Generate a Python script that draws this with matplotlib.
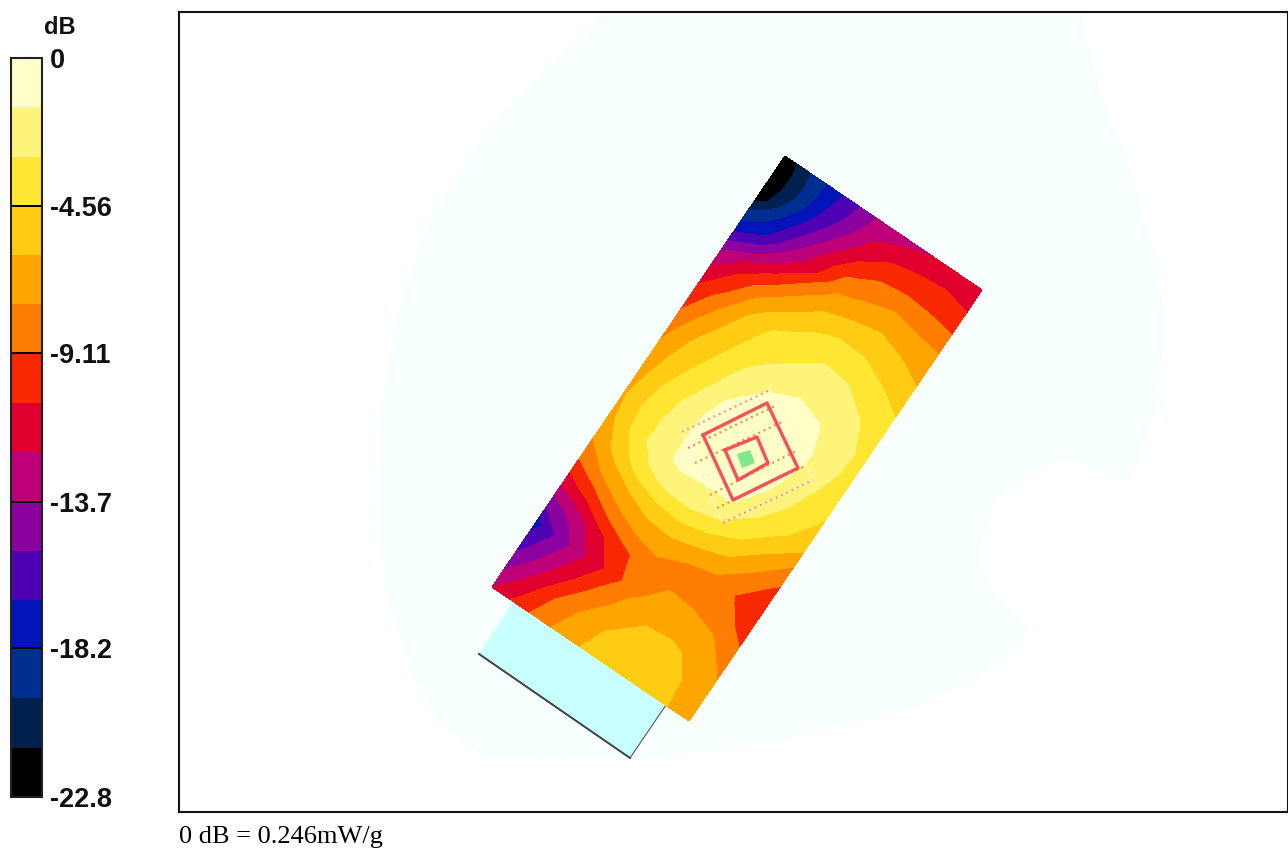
import numpy as np
import matplotlib
matplotlib.use("Agg")
import matplotlib.pyplot as plt
from matplotlib.colors import ListedColormap, BoundaryNorm
from matplotlib.cm import ScalarMappable

W, H = 1288, 848

# Colour scale, top band (0 dB) first
band_colors = ["#FFFFC8", "#FFF47A", "#FFE632", "#FFCC14", "#FFA500",
               "#FF7D00", "#F82800", "#E1002D", "#BE0078", "#8C00A0",
               "#5000B4", "#0014B9", "#002E91", "#002050", "#000000"]
scale_ticks = [0, -4.56, -9.11, -13.7, -18.2, -22.8]
scale_labels = ["0", "-4.56", "-9.11", "-13.7", "-18.2", "-22.8"]
db_step = 1.52

# Area scan corners in picture pixels (top, right, left)
scan_top = (785, 156)
scan_right = (982, 290)
scan_left = (492, 587)

# Position across the short side and along the long side of the scan
scan_u = [0, 0.125, 0.25, 0.375, 0.5, 0.625, 0.75, 0.875, 1]
scan_v = [0, 0.03, 0.06, 0.09, 0.12, 0.15, 0.18, 0.21, 0.24, 0.27, 0.30, 0.35, 0.40,
          0.45, 0.50, 0.55, 0.60, 0.65, 0.70, 0.75, 0.80, 0.85, 0.90, 0.95, 1]

# In colour steps below the peak (one row per scan_v)
depth_steps = [
    [15.0, 13.1, 11.6, 10.1, 8.6, 8.4, 8.0, 7.6, 7.3],
    [15.5, 13.3, 11.35, 9.85, 8.25, 7.7, 7.3, 7.15, 7.15],
    [15.1, 13.2, 11.1, 9.35, 7.75, 6.85, 6.65, 6.65, 6.95],
    [14.9, 12.55, 10.5, 8.6, 7.0, 6.15, 6.0, 6.1, 6.3],
    [13.3, 11.7, 9.7, 7.8, 6.15, 5.5, 5.2, 5.4, 5.65],
    [12.1, 10.9, 8.8, 7.25, 5.35, 4.9, 4.55, 4.8, 5.0],
    [10.8, 9.45, 7.65, 5.95, 4.6, 4.2, 3.95, 4.25, 4.6],
    [9.35, 7.95, 6.45, 4.95, 3.9, 3.5, 3.45, 3.75, 4.2],
    [8.4, 6.85, 5.35, 4.15, 3.2, 2.8, 2.9, 3.3, 3.8],
    [7.6, 6.2, 4.45, 3.35, 2.75, 2.25, 2.35, 2.85, 3.35],
    [6.9, 5.45, 3.85, 2.8, 2.4, 1.8, 1.9, 2.35, 2.95],
    [6.1, 4.45, 3.3, 2.3, 1.65, 1.15, 1.3, 1.85, 2.6],
    [5.25, 3.8, 2.8, 1.65, 0.9, 0.75, 0.9, 1.55, 2.35],
    [4.75, 3.35, 2.3, 1.0, 0.6, 0.4, 0.6, 1.6, 2.4],
    [4.4, 2.9, 1.7, 0.6, 0.3, 0.2, 0.8, 1.85, 2.75],
    [4.15, 2.6, 1.55, 0.6, 0.6, 0.35, 1.15, 2.25, 3.15],
    [4.4, 2.75, 1.4, 0.75, 0.9, 0.8, 1.9, 2.8, 3.75],
    [4.9, 3.55, 2.3, 1.7, 1.65, 2.05, 2.85, 4.0, 5.15],
    [5.95, 4.85, 4.0, 3.4, 3.2, 3.6, 4.1, 5.15, 6.25],
    [7.55, 6.6, 5.4, 4.7, 4.65, 5.0, 5.3, 6.1, 6.6],
    [9.55, 8.6, 7.2, 6.2, 5.4, 5.15, 5.35, 5.7, 6.35],
    [11.4, 9.6, 8.05, 6.7, 5.3, 4.6, 4.4, 4.75, 5.75],
    [10.4, 8.75, 7.2, 5.65, 4.65, 3.95, 3.9, 4.1, 5.05],
    [9.25, 7.65, 6.0, 4.85, 3.95, 3.6, 3.65, 3.98, 4.7],
    [8.0, 6.65, 5.4, 4.4, 3.7, 3.3, 3.45, 3.95, 4.4],
]

# Phantom outline, pale background shape
head_x = [610, 540, 480, 430, 395, 380, 378, 385, 410, 440, 480, 630, 720, 800, 900, 977,
          1030, 990, 982, 982, 993, 1027, 1057, 1077, 1100, 1128, 1147, 1153, 1165, 1160,
          1130, 1100, 1080]
head_y = [12, 75, 140, 220, 320, 420, 500, 590, 670, 725, 755, 758, 750, 735, 712, 680,
          630, 590, 567, 540, 503, 473, 462, 460, 470, 483, 440, 420, 340, 270,
          170, 90, 12]

# Device outline under the scan
device_x = [515, 666, 630, 479]
device_y = [600, 705, 758, 654]

# Zoom scan marks
outer_x = [703, 767, 798, 733, 703]
outer_y = [435, 403, 468, 500, 435]
inner_x = [725, 757, 768, 738, 725]
inner_y = [450, 437, 463, 480, 450]
peak_x = [737, 750, 755, 742]
peak_y = [454, 450, 463, 468]
frame_x = [682, 770, 813, 723, 682]
frame_y = [432, 390, 480, 523, 432]
line_x0 = [682, 688, 695, 702, 710, 717, 723]
line_y0 = [432, 448, 463, 478, 495, 508, 523]
line_x1 = [770, 775, 784, 792, 798, 805, 813]
line_y1 = [390, 406, 421, 437, 450, 466, 480]
line_colors = ["#F08A8A", "#FF7A20", "#FF7A20", "#FFE4F0", "#FF7A20", "#FF7A20", "#F08A8A"]

fig = plt.figure(figsize=(W / 100, H / 100), dpi=100)
fig.patch.set_facecolor("white")

# Main panel, data space is the picture's pixel grid
ax = fig.add_axes([179 / W, (H - 812) / H, (1287.5 - 179) / W, 800 / H])
ax.set_xlim(179, 1287.5)
ax.set_ylim(812, 12)
ax.set_xticks([])
ax.set_yticks([])
for s in ax.spines.values():
    s.set_linewidth(1.5)
    s.set_color("#111111")

ax.fill(head_x, head_y, color="#F8FFFF", lw=0, zorder=1)
ax.fill(device_x, device_y, color="#C8FFFF", lw=0, zorder=2)
ax.plot(device_x[1:], device_y[1:], color="#555555", lw=0.8, zorder=3)
ax.plot(device_x[2:], device_y[2:], color="#444444", lw=1.4, zorder=3)

# Contour levels run upward, so the colours are reversed
levels = np.linspace(-22.8, 0, 16)
cmap = ListedColormap(band_colors[::-1])
norm = BoundaryNorm(levels, cmap.N)

uu, vv = np.meshgrid(scan_u, scan_v)
xx = scan_top[0] + uu * (scan_right[0] - scan_top[0]) + vv * (scan_left[0] - scan_top[0])
yy = scan_top[1] + uu * (scan_right[1] - scan_top[1]) + vv * (scan_left[1] - scan_top[1])
scan_db = np.clip(-np.array(depth_steps) * db_step, -22.8, 0)
ax.contourf(xx, yy, scan_db, levels=levels, cmap=cmap, norm=norm, zorder=4)

ax.plot(frame_x, frame_y, color="#FFFBE0", lw=0.8, zorder=5)
for i in range(len(line_x0)):
    ax.plot([line_x0[i], line_x1[i]], [line_y0[i], line_y1[i]], color=line_colors[i],
            lw=1.4, ls=(0, (1, 2)), zorder=6)
ax.plot(outer_x, outer_y, color="#F5505A", lw=2.4, zorder=7)
ax.plot(inner_x, inner_y, color="#F5505A", lw=2.4, zorder=7)
ax.fill(peak_x, peak_y, color="#7FE88C", lw=0, zorder=8)

# Colour scale on the left
cax = fig.add_axes([11 / W, (H - 797) / H, 31 / W, 739 / H])
cb = fig.colorbar(ScalarMappable(norm=norm, cmap=cmap), cax=cax, spacing="proportional")
cb.set_ticks(scale_ticks)
cb.set_ticklabels(scale_labels)
cb.ax.minorticks_off()
cb.ax.tick_params(length=0, pad=6)
cb.outline.set_linewidth(1.5)
cb.outline.set_edgecolor("#222222")
for t in scale_ticks[1:-1]:
    cax.axhline(t, color="black", lw=1.4)
for lab in cb.ax.get_yticklabels():
    lab.set_family("Liberation Sans")
    lab.set_fontweight("bold")
    lab.set_fontsize(19.5)
    lab.set_color("#111111")

fig.text(60 / W, 1 - 27 / H, "dB", family="Liberation Sans", fontweight="bold", fontsize=17,
         ha="center", va="center", color="#111111")
fig.text(179 / W, 1 - 837 / H, "0 dB = 0.246mW/g", family="Liberation Serif", fontsize=19,
         ha="left", va="center", color="black")

fig.savefig("out.png", dpi=100)
